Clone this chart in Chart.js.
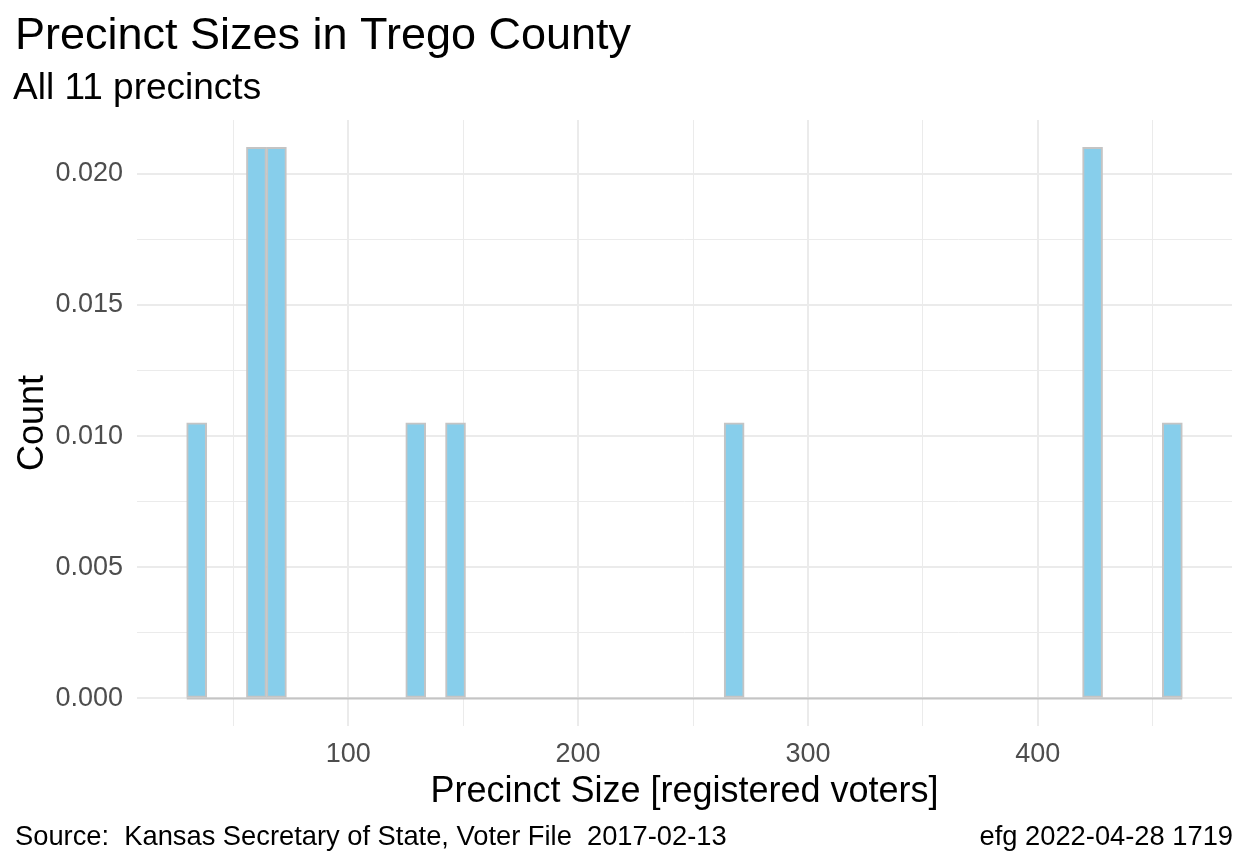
<!DOCTYPE html>
<html>
<head>
<meta charset="utf-8">
<script src="https://cdn.jsdelivr.net/npm/chart.js@4/dist/chart.umd.min.js"></script>
<style>
html,body{margin:0;padding:0;background:#fff;}
#wrap{width:1248px;height:864px;position:relative;}
</style>
</head>
<body>
<div id="wrap"><canvas id="c" width="1248" height="864"></canvas></div>
<script>
// Histogram bins (non-empty), centers in registered voters
const binCenters = [34.1, 60.1, 68.8, 129.4, 146.7, 267.9, 423.8, 458.5];
const binCounts  = [1, 2, 2, 1, 1, 1, 2, 1];
const densities  = [0.0105, 0.0210, 0.0210, 0.0105, 0.0105, 0.0105, 0.0210, 0.0105];
const histRange  = [29.8, 462.8];   // outer edges of histogram
const xTicks     = [100, 200, 300, 400];
const yTicks     = [0.000, 0.005, 0.010, 0.015, 0.020];

const titleText    = 'Precinct Sizes in Trego County';
const subtitleText = 'All 11 precincts';
const xTitle       = 'Precinct Size [registered voters]';
const yTitle       = 'Count';
const captionLeft  = 'Source:  Kansas Secretary of State, Voter File  2017-02-13';
const captionRight = 'efg 2022-04-28 1719';

const FONT = '"Liberation Sans", Arial, sans-serif';

const barData  = binCenters.map((x, i) => ({x: x, y: densities[i]}));
const baseData = histRange.map(x => ({x: x, y: 0}));

const textPlugin = {
  id: 'texts',
  afterDraw(chart) {
    const ctx = chart.ctx;
    const a = chart.chartArea;
    ctx.save();
    ctx.fillStyle = '#000';
    ctx.textBaseline = 'alphabetic';
    ctx.textAlign = 'left';
    ctx.font = '45px ' + FONT;
    ctx.fillText(titleText, 15, 49);
    ctx.font = '37px ' + FONT;
    ctx.fillText(subtitleText, 13, 99);
    ctx.font = '36px ' + FONT;
    ctx.textAlign = 'center';
    ctx.fillText(xTitle, (a.left + a.right) / 2, 802);
    ctx.save();
    ctx.translate(43, (a.top + a.bottom) / 2);
    ctx.rotate(-Math.PI / 2);
    ctx.fillText(yTitle, 0, 0);
    ctx.restore();
    ctx.font = '27.3px ' + FONT;
    ctx.textAlign = 'left';
    ctx.fillText(captionLeft, 15, 845);
    ctx.textAlign = 'right';
    ctx.fillText(captionRight, 1233, 845);
    ctx.restore();
  }
};

const isMajorX = v => xTicks.some(t => Math.abs(t - v) < 1e-6);
const isMajorY = v => yTicks.some(t => Math.abs(t - v) < 1e-9);

new Chart(document.getElementById('c'), {
  data: {
    datasets: [
      {
        type: 'bar',
        data: barData,
        backgroundColor: '#87CEEB',
        borderColor: '#C4C4C4',
        borderWidth: 2,
        borderSkipped: false,
        barPercentage: 1.0,
        categoryPercentage: 1.0,
        order: 1
      },
      {
        type: 'line',
        data: baseData,
        borderColor: '#C4C4C4',
        borderWidth: 2,
        pointRadius: 0,
        order: 2
      }
    ]
  },
  options: {
    responsive: false,
    animation: false,
    layout: {padding: {top: 120, right: 16, bottom: 0, left: 0}},
    plugins: {legend: {display: false}, tooltip: {enabled: false}, title: {display: false}},
    scales: {
      x: {
        type: 'linear',
        offset: false,
        min: 8.15,
        max: 484.45,
        afterFit(s) { s.height = 138; },
        border: {display: false},
        grid: {
          offset: false,
          drawTicks: false,
          color: '#EBEBEB',
          lineWidth: c => (c.tick && isMajorX(c.tick.value)) ? 2 : 1
        },
        ticks: {
          stepSize: 50,
          includeBounds: false,
          autoSkip: false,
          maxRotation: 0,
          padding: 12,
          color: '#4D4D4D',
          font: {family: FONT, size: 27},
          callback: v => isMajorX(v) ? String(v) : ''
        }
      },
      y: {
        type: 'linear',
        min: -0.00105,
        max: 0.022046,
        afterFit(s) { s.width = 137; },
        border: {display: false},
        grid: {
          drawTicks: false,
          color: '#EBEBEB',
          lineWidth: c => (c.tick && isMajorY(c.tick.value)) ? 2 : 1
        },
        ticks: {
          stepSize: 0.0025,
          includeBounds: false,
          autoSkip: false,
          padding: 14,
          color: '#4D4D4D',
          font: {family: FONT, size: 27},
          callback: v => isMajorY(v) ? v.toFixed(3) : ''
        }
      }
    }
  },
  plugins: [textPlugin]
});
</script>
</body>
</html>
